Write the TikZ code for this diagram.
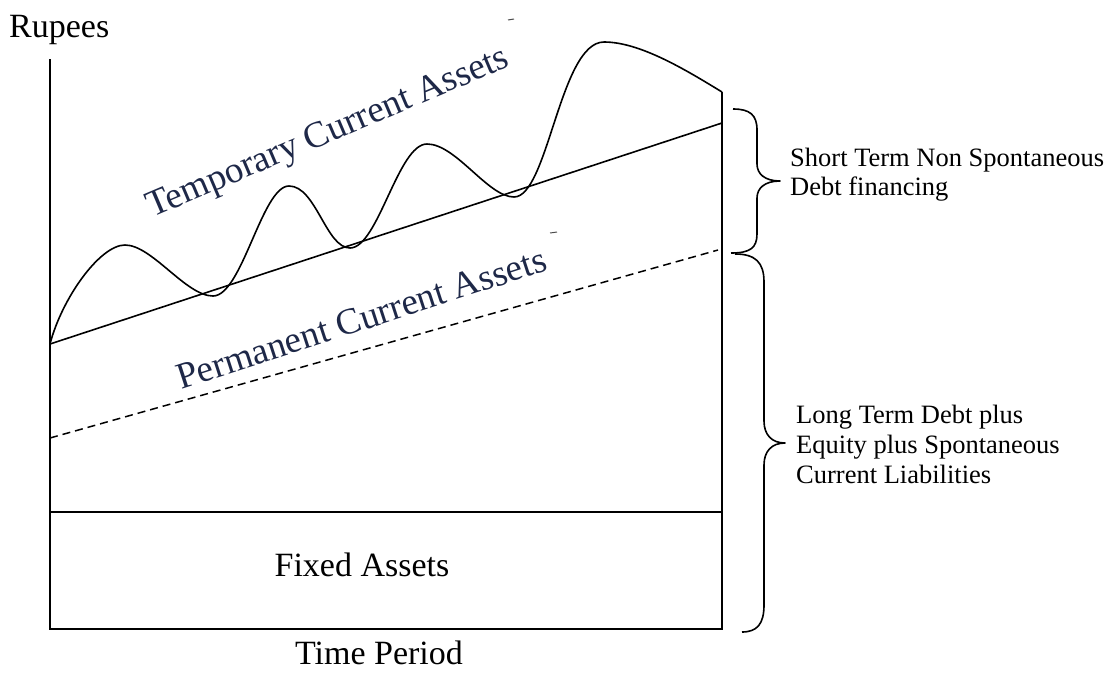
\documentclass[tikz,border=0pt]{standalone}
\usepackage{fontspec}
\setmainfont{Liberation Serif}
\begin{document}
\begin{tikzpicture}[x=1pt,y=-1pt,
  axisline/.style={line width=1.8pt,black},
  curveline/.style={line width=1.6pt,black,line join=round},
  dashline/.style={line width=1.5pt,black,dash pattern=on 8pt off 5pt},
  bracepath/.style={line width=1.6pt,black,line join=round},
  biglabel/.style={inner sep=0pt,font=\fontsize{34}{38}\selectfont},
  sidelabel/.style={inner sep=0pt,anchor=base west,font=\fontsize{26.5}{30}\selectfont},
  slantlabel/.style={inner sep=0pt,text={rgb,255:red,30;green,40;blue,72},font=\fontsize{37}{40}\selectfont},
  speck/.style={line width=1pt,black!70}]
\useasboundingbox (0,0) rectangle (1113,672);

% frame of the chart
\coordinate (ytop) at (50,59);
\coordinate (origin) at (50,629);
\coordinate (xend) at (722,629);
\coordinate (rtop) at (722,92);
\coordinate (fixL) at (50,512);
\coordinate (fixR) at (722,512);
\draw[axisline] (ytop) -- (origin) -- (xend) -- (rtop);
\draw[axisline] (fixL) -- (fixR);

% permanent current assets level (solid) and its lower dashed level
\coordinate (permL) at (50,344);
\coordinate (permR) at (722,123);
\draw[curveline] (permL) -- (permR);
\coordinate (dashL) at (50,438);
\coordinate (dashR) at (718,250);
\draw[dashline] (dashL) -- (dashR);

% fluctuating total current assets
\draw[curveline] (permL)
  .. controls (62,298) and (100,245) .. (125,245)
  .. controls (152,245) and (186,296) .. (213,296)
  .. controls (242,296) and (262,186) .. (289,186)
  .. controls (316,186) and (326,248) .. (350,248)
  .. controls (378,248) and (398,144) .. (427,144)
  .. controls (456,144) and (488,197) .. (514,197)
  .. controls (548,197) and (560,42) .. (604,42)
  .. controls (640,42) and (686,70) .. (rtop);

% small specks
\draw[speck] (508,20) -- (514,19);
\draw[speck] (550,233) -- (557,232);

% braces on the right
\draw[bracepath] (733,109) .. controls (750,109) and (757,115) .. (757,130)
  -- (757,164) .. controls (757,174) and (765,181) .. (780,181)
  .. controls (765,181) and (757,188) .. (757,198)
  -- (757,234) .. controls (757,248) and (750,253) .. (731,253);
\draw[bracepath] (735,254) .. controls (755,254) and (764,262) .. (764,282)
  -- (764,421) .. controls (764,435) and (772,443) .. (785,443)
  .. controls (772,443) and (764,451) .. (764,465)
  -- (764,605) .. controls (764,624) and (757,632) .. (742,632);

% labels
\node[biglabel,anchor=base west] (rupees) at (9,37) {Rupees};
\node[biglabel,anchor=base] (time) at (379,664) {Time Period};
\node[biglabel,anchor=base] (fixed) at (362,576) {Fixed Assets};
\node[slantlabel,anchor=base west,rotate=23] (temp) at (152,218) {Temporary Current Assets};
\node[slantlabel,anchor=base east,rotate=18] (perm) at (549,270) {Permanent Current Assets};

\node[sidelabel] (st1) at (790,166) {Short Term Non Spontaneous};
\node[sidelabel] (st2) at (790,195) {Debt financing};
\node[sidelabel] (lt1) at (796,423) {Long Term Debt plus};
\node[sidelabel] (lt2) at (796,453) {Equity plus Spontaneous};
\node[sidelabel] (lt3) at (796,483) {Current Liabilities};
\end{tikzpicture}
\end{document}
